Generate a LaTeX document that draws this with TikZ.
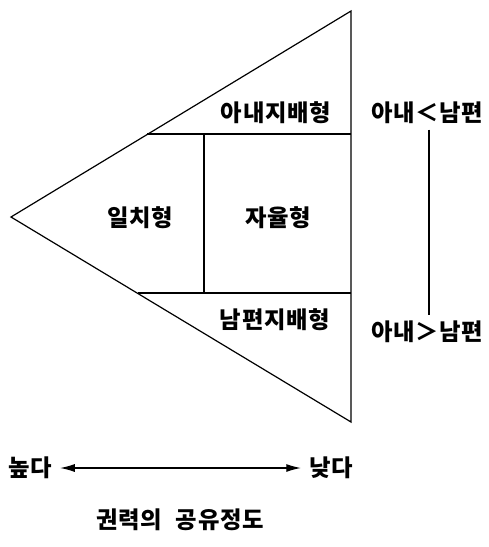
\documentclass[tikz,border=0pt]{standalone}
\usepackage{fontspec}
\newfontfamily\kor[LetterSpace=3]{Noto Sans CJK KR}
\usetikzlibrary{arrows.meta}

\begin{document}
\begin{tikzpicture}[
  x=0.75pt, y=-0.75pt,
  font=\kor\bfseries\fontsize{17.5pt}{20pt}\selectfont,
  linea/.style={draw=black, line width=0.9pt, line join=miter},
  etichetta/.style={inner sep=1pt},
  freccia/.style={draw=black, line width=0.9pt, {Latex[length=11pt,width=6pt]}-{Latex[length=11pt,width=6pt]}}
]
\useasboundingbox (0,0) rectangle (489,547);

%--------------------------------------------------------------
% Triangolo e suddivisioni
%--------------------------------------------------------------
\coordinate (apice) at (11,217);
\coordinate (alto) at (351,11);
\coordinate (basso) at (351,422);
\draw[linea] (apice) -- (alto) -- (basso) -- cycle;
\draw[linea] (147,134) -- (351,134);
\draw[linea] (138,293) -- (351,293);
\draw[linea] (204,134) -- (204,293);

\node[etichetta] (moglie) at (276,113) {아내지배형};
\node[etichetta] (marito) at (275,320) {남편지배형};
\node[etichetta] (sincr) at (140,218) {일치형};
\node[etichetta] (auto) at (278,218) {자율형};

%--------------------------------------------------------------
% Scala a destra
%--------------------------------------------------------------
\node[etichetta] (minore) at (427,113) {아내＜남편};
\node[etichetta] (maggiore) at (427,332) {아내＞남편};
\draw[linea, line width=1.1pt] ([xshift=1.5pt,yshift=-3pt]minore.south) -- ([xshift=1.5pt,yshift=3pt]maggiore.north);

%--------------------------------------------------------------
% Asse in basso
%--------------------------------------------------------------
\node[etichetta] (alta) at (30,468) {높다};
\node[etichetta] (bassa) at (331,468) {낮다};
\draw[freccia] ([xshift=5pt]alta.east) -- ([xshift=-5pt]bassa.west);
\node[etichetta] (titolo) at (180,520) {권력의\hspace{0.6em}공유정도};

\end{tikzpicture}
\end{document}
